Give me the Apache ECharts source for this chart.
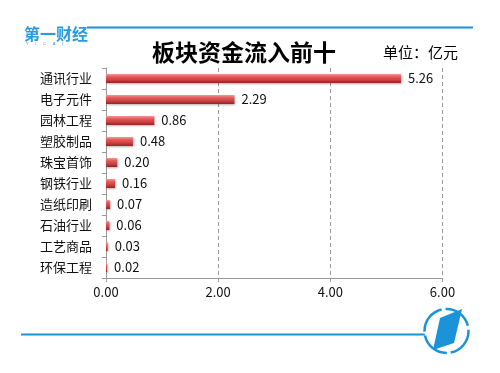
<!DOCTYPE html>
<html><head><meta charset="utf-8">
<script src="https://cdn.jsdelivr.net/npm/echarts@6/dist/echarts.min.js"></script>
<style>html,body{margin:0;padding:0;background:#fff}#c{width:500px;height:373px}</style>
</head><body><div id="c"></div>
<script>
var categories = ['通讯行业','电子元件','园林工程','塑胶制品','珠宝首饰','钢铁行业','造纸印刷','石油行业','工艺商品','环保工程'];
var values = [5.26, 2.29, 0.86, 0.48, 0.20, 0.16, 0.07, 0.06, 0.03, 0.02];
var xTicks = [0, 2, 4, 6];
var titleText = '板块资金流入前十';
var unitText = '单位：亿元';

var FONT = '"Noto Sans CJK SC", "Noto Sans", sans-serif';
var chart = echarts.init(document.getElementById('c'), null, {renderer: 'canvas'});
var blue = '#1a93d8';
chart.setOption({
  animation: false,
  backgroundColor: '#fff',
  grid: {left: 106, right: 57.5, top: 68, bottom: 95, containLabel: false},
  xAxis: {
    type: 'value', min: xTicks[0], max: xTicks[xTicks.length - 1], interval: 2,
    axisLine: {show: true, lineStyle: {color: '#999', width: 1}},
    axisTick: {show: true, length: 4, lineStyle: {color: '#999'}},
    axisLabel: {color: '#111', fontSize: 13, fontFamily: FONT, margin: 8,
      formatter: function (v) { return v.toFixed(2); }},
    splitLine: {show: true, lineStyle: {color: '#999', type: [4, 3], width: 1}}
  },
  yAxis: {
    type: 'category', data: categories, inverse: true,
    axisLine: {show: true, lineStyle: {color: '#999', width: 1}},
    axisTick: {show: true, length: 4, lineStyle: {color: '#999'}},
    axisLabel: {color: '#111', fontSize: 13, fontFamily: FONT, margin: 14}
  },
  series: [{
    type: 'bar', data: values, barWidth: 9,
    itemStyle: {
      color: new echarts.graphic.LinearGradient(0, 0, 0, 1, [
        {offset: 0, color: '#f39a9a'},
        {offset: 0.3, color: '#e35c5c'},
        {offset: 0.7, color: '#c83c3c'},
        {offset: 1, color: '#8e2626'}
      ]),
      shadowColor: 'rgba(0,0,0,0.3)', shadowBlur: 2, shadowOffsetY: 1, shadowOffsetX: 1
    },
    label: {show: true, position: 'right', distance: 7, color: '#111', fontSize: 13,
      fontFamily: FONT, formatter: function (p) { return p.value.toFixed(2); }}
  }],
  graphic: [
    {type: 'line', shape: {x1: 87, y1: 27.5, x2: 473, y2: 27.5}, style: {stroke: blue, lineWidth: 2}},
    {type: 'text', x: 24, y: 34, style: {text: '第一财经', fill: '#2a9be0', font: 'bold 16px ' + FONT, verticalAlign: 'middle'}},
    {type: 'text', x: 26, y: 44, style: {text: 'Y      I      C      A      I', fill: '#2a9be0', font: '4px sans-serif', verticalAlign: 'middle'}},
    {type: 'text', x: 244, y: 52, style: {text: titleText, fill: '#000', font: 'bold 23px ' + FONT, align: 'center', verticalAlign: 'middle'}},
    {type: 'text', x: 383, y: 52, style: {text: unitText, fill: '#000', font: '15px ' + FONT, align: 'left', verticalAlign: 'middle'}},
    {type: 'line', shape: {x1: 21, y1: 334.5, x2: 426, y2: 334.5}, style: {stroke: blue, lineWidth: 2}},
    {type: 'circle', shape: {cx: 446.5, cy: 331, r: 22}, style: {fill: '#fff', stroke: blue, lineWidth: 2.5, lineDash: [30, 4]}},
    {type: 'polygon', shape: {points: [[440, 318], [462, 309], [454, 343], [433, 350]]}, style: {fill: blue}}
  ]
});
</script></body></html>
